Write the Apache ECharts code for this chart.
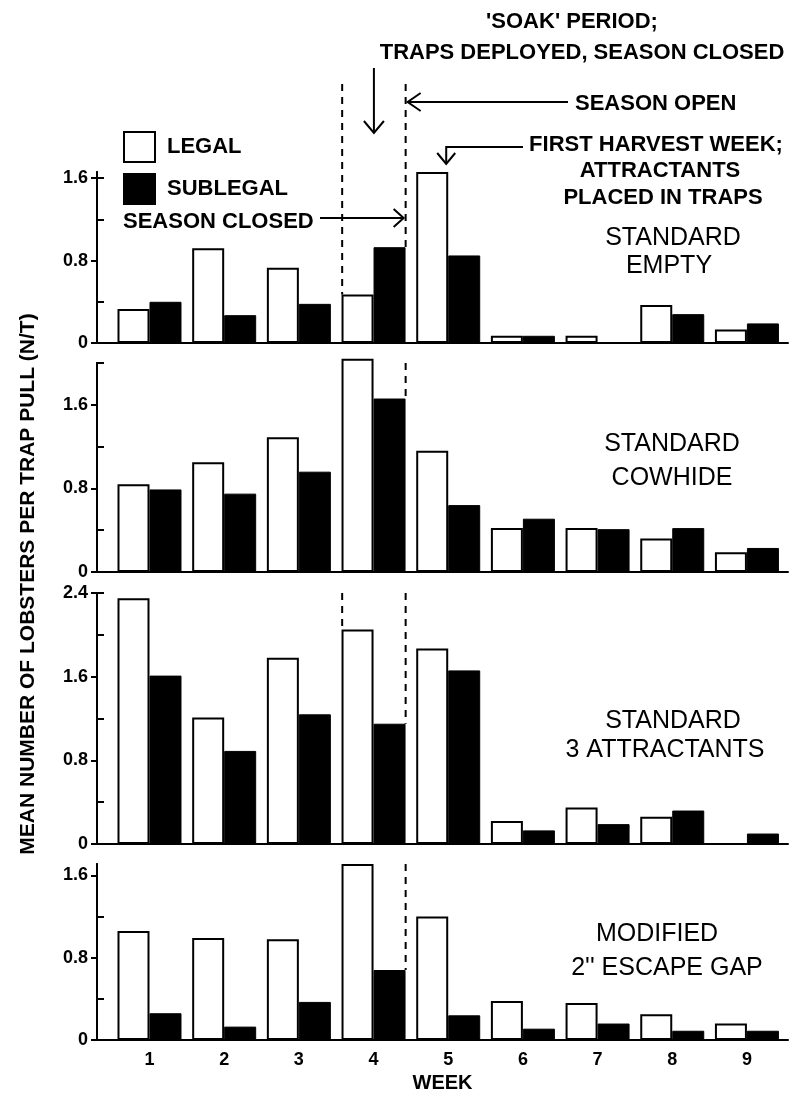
<!DOCTYPE html>
<html>
<head>
<meta charset="utf-8">
<script src="https://cdn.jsdelivr.net/npm/echarts@6/dist/echarts.min.js"></script>
<style>
html,body{margin:0;padding:0;background:#fff;}
#c{width:794px;height:1098px;}
</style>
</head>
<body>
<div id="c"></div>
<script>
// ---------- DATA ----------
const weeks = [1, 2, 3, 4, 5, 6, 7, 8, 9];
const weekLabels = ['1', '2', '3', '4', '5', '6', '7', '8', '9'];
const seriesNames = ['LEGAL', 'SUBLEGAL'];

const emptyLegal    = [0.33, 0.92, 0.73, 0.47, 1.66, 0.07, 0.07, 0.37, 0.13];
const emptySub      = [0.40, 0.27, 0.38, 0.93, 0.85, 0.07, 0.00, 0.28, 0.19];
const cowhideLegal  = [0.84, 1.05, 1.29, 2.04, 1.16, 0.42, 0.42, 0.32, 0.19];
const cowhideSub    = [0.79, 0.75, 0.96, 1.66, 0.64, 0.51, 0.41, 0.42, 0.23];
const attractLegal  = [2.35, 1.21, 1.78, 2.05, 1.87, 0.22, 0.35, 0.26, 0.00];
const attractSub    = [1.61, 0.89, 1.24, 1.15, 1.66, 0.13, 0.19, 0.32, 0.10];
const modifiedLegal = [1.06, 0.99, 0.98, 1.71, 1.20, 0.38, 0.36, 0.25, 0.16];
const modifiedSub   = [0.26, 0.13, 0.37, 0.68, 0.24, 0.11, 0.16, 0.09, 0.09];

const yTickLabels = ['0', '0.8', '1.6', '2.4'];
const yLabelTicks = [0, 0.8, 1.6, 2.4];        // labelled ticks (outside)
const yMinorTicks = [0.4, 1.2, 2.0];           // unlabelled ticks (inside)
const panelMax = [1.66, 2.0, 2.4, 1.71];
const panelNames = [
  ['STANDARD', 'EMPTY'],
  ['STANDARD', 'COWHIDE'],
  ['STANDARD', '3 ATTRACTANTS'],
  ['MODIFIED', "2'' ESCAPE GAP"]
];
const soakStartWeek = 3.58;   // start of 'soak' period (dashed line)
const seasonOpenWeek = 4.43;  // season opens (dashed line)

const yTitle = 'MEAN NUMBER OF LOBSTERS PER TRAP PULL (N/T)';
const xTitle = 'WEEK';

// ---------- LAYOUT / STYLE ----------
const FONT = '"Liberation Sans", Arial, Helvetica, sans-serif';
const gridLayout = [
  { top: 172, height: 171 },
  { top: 363, height: 209 },
  { top: 593, height: 251 },
  { top: 864, height: 176 }
];
const topCornerTick = [1.6, null, 2.4, null];
const panelTextPos = [
  [[673, 238], [669, 266]],
  [[672, 444], [672, 478]],
  [[673, 721], [665, 750]],
  [[657, 934], [667, 968]]
];

const legalData = [emptyLegal, cowhideLegal, attractLegal, modifiedLegal];
const subData = [emptySub, cowhideSub, attractSub, modifiedSub];

function yFmt(v) {
  const r = v / 0.8;
  if (Math.abs(r - Math.round(r)) < 1e-6) {
    const s = Math.abs(v) < 1e-9 ? '0' : v.toFixed(1);
    return yTickLabels.indexOf(s) >= 0 ? s : '';
  }
  return '';
}

const grids = [], xAxes = [], yAxes = [], series = [];
gridLayout.forEach((g, i) => {
  grids.push({ left: 97, right: 6, top: g.top, height: g.height, containLabel: false });
  xAxes.push({
    type: 'value', gridIndex: i, min: 0.297, max: 9.55,
    axisLine: { show: true, onZero: false, lineStyle: { color: '#000', width: 2 } },
    axisTick: { show: false },
    splitLine: { show: false },
    axisLabel: i === 3 ? {
      show: true, customValues: weeks, margin: 11,
      formatter: v => weekLabels[weeks.indexOf(v)] || '',
      color: '#000', fontFamily: FONT, fontWeight: 'bold', fontSize: 18
    } : { show: false },
    name: i === 3 ? xTitle : '',
    nameLocation: 'middle', nameGap: 33,
    nameTextStyle: { color: '#000', fontFamily: FONT, fontWeight: 'bold', fontSize: 20 }
  });
  const labelled = yLabelTicks.filter(v => v <= panelMax[i] + 1e-9);
  const minor = yMinorTicks.filter(v => v <= panelMax[i] + 1e-9);
  if (topCornerTick[i] !== null) minor.push(topCornerTick[i]);
  // labelled axis: outside ticks
  yAxes.push({
    type: 'value', gridIndex: i, min: 0, max: panelMax[i], position: 'left', offset: 0,
    axisLine: { show: true, onZero: false, lineStyle: { color: '#000', width: 2 } },
    axisTick: { show: true, inside: false, length: 6, customValues: labelled, lineStyle: { color: '#000', width: 2 } },
    splitLine: { show: false },
    axisLabel: { customValues: labelled, formatter: yFmt, margin: 9, color: '#000', fontFamily: FONT, fontWeight: 'bold', fontSize: 18 }
  });
  // unlabelled axis: inside ticks
  yAxes.push({
    type: 'value', gridIndex: i, min: 0, max: panelMax[i], position: 'left', offset: 0,
    axisLine: { show: true, onZero: false, lineStyle: { color: '#000', width: 2 } },
    axisTick: { show: true, inside: true, length: 7, customValues: minor, lineStyle: { color: '#000', width: 2 } },
    splitLine: { show: false },
    axisLabel: { show: false }
  });
  series.push({
    name: seriesNames[0], type: 'bar', xAxisIndex: i, yAxisIndex: 2 * i,
    data: weeks.map((w, k) => [w, legalData[i][k]]),
    barWidth: 32, barGap: '0%', clip: false,
    itemStyle: { color: '#fff', borderColor: '#000', borderWidth: 2 }
  });
  series.push({
    name: seriesNames[1], type: 'bar', xAxisIndex: i, yAxisIndex: 2 * i,
    data: weeks.map((w, k) => [w, subData[i][k]]),
    barWidth: 32, barGap: '0%', clip: false,
    itemStyle: { color: '#000', borderColor: '#000', borderWidth: 1 }
  });
});

const option = {
  backgroundColor: '#fff',
  animation: false,
  legend: {
    data: seriesNames, orient: 'vertical', left: 118, top: 126,
    icon: 'rect', itemWidth: 31, itemHeight: 30, itemGap: 10,
    textStyle: { color: '#000', fontFamily: FONT, fontWeight: 'bold', fontSize: 22, padding: [0, 0, 0, 7] },
    selectedMode: false
  },
  grid: grids, xAxis: xAxes, yAxis: yAxes, series: series
};

const chart = echarts.init(document.getElementById('c'), null, { renderer: 'canvas' });
chart.setOption(option);

// ---------- ANNOTATIONS (positions derived from the axes) ----------
const px = (g, x, y) => chart.convertToPixel({ xAxisIndex: g, yAxisIndex: 2 * g }, [x, y]);
const xSoak = px(0, soakStartWeek, 0)[0];
const xOpen = px(0, seasonOpenWeek, 0)[0];
const lineStyle = { stroke: '#000', lineWidth: 2, fill: null };
const dashStyle = { stroke: '#000', lineWidth: 2, lineDash: [7, 6], fill: null };
const g = [];
const txt = (text, x, y, align, size, weight) => ({
  type: 'text', x: x, y: y, silent: true,
  style: { text: text, textAlign: align, textVerticalAlign: 'middle', fill: '#000',
           font: (weight || 'bold') + ' ' + size + 'px ' + FONT }
});

// dashed lines in each panel, from panel top down to week-4 bar tops
[[soakStartWeek, legalData], [seasonOpenWeek, subData]].forEach(([wx, arr]) => {
  for (let i = 0; i < 4; i++) {
    const x = px(i, wx, 0)[0];
    const yTop = i === 0 ? 84 : px(i, wx, panelMax[i])[1];
    const yBot = px(i, wx, arr[i][3])[1];
    if (yBot - yTop > 3) {
      g.push({ type: 'line', silent: true, shape: { x1: x, y1: yTop, x2: x, y2: yBot }, style: dashStyle });
    }
  }
});

// soak arrow (down)
const xMid = (xSoak + xOpen) / 2;
g.push({ type: 'line', silent: true, shape: { x1: xMid, y1: 68, x2: xMid, y2: 133 }, style: lineStyle });
g.push({ type: 'polyline', silent: true, shape: { points: [[xMid - 10, 121], [xMid, 133], [xMid + 10, 121]] }, style: lineStyle });
// season open arrow (left)
g.push({ type: 'line', silent: true, shape: { x1: xOpen + 2, y1: 102, x2: 568, y2: 102 }, style: lineStyle });
g.push({ type: 'polyline', silent: true, shape: { points: [[xOpen + 15, 93], [xOpen + 2, 102], [xOpen + 15, 111]] }, style: lineStyle });
// first harvest arrow
const xW5 = px(0, 5, 0)[0] - 2;
g.push({ type: 'polyline', silent: true, shape: { points: [[523, 147], [xW5, 147], [xW5, 163]] }, style: lineStyle });
g.push({ type: 'polyline', silent: true, shape: { points: [[xW5 - 9, 153], [xW5, 164], [xW5 + 9, 153]] }, style: lineStyle });
// season closed arrow (right)
g.push({ type: 'line', silent: true, shape: { x1: 320, y1: 218, x2: xOpen - 2, y2: 218 }, style: lineStyle });
g.push({ type: 'polyline', silent: true, shape: { points: [[xOpen - 12, 209], [xOpen - 2, 218], [xOpen - 12, 227]] }, style: lineStyle });

// annotation texts
g.push(txt("'SOAK' PERIOD;", 572, 22, 'center', 22));
g.push(txt('TRAPS DEPLOYED, SEASON CLOSED', 582, 53, 'center', 22));
g.push(txt('SEASON OPEN', 575, 104, 'left', 22));
g.push(txt('FIRST HARVEST WEEK;', 656, 145, 'center', 22));
g.push(txt('ATTRACTANTS', 660, 171, 'center', 22));
g.push(txt('PLACED IN TRAPS', 663, 198, 'center', 22));
g.push(txt('SEASON CLOSED', 123, 222, 'left', 22));

// panel labels
panelNames.forEach((lines, i) => {
  lines.forEach((t, j) => {
    const p = panelTextPos[i][j];
    g.push(txt(t, p[0], p[1], 'center', 25, 'normal'));
  });
});

// y-axis title
g.push({
  type: 'text', x: 28, y: 584, rotation: Math.PI / 2, silent: true,
  style: { text: yTitle, textAlign: 'center', textVerticalAlign: 'middle', fill: '#000',
           font: 'bold 21px ' + FONT }
});

chart.setOption({ graphic: g });
</script>
</body>
</html>
